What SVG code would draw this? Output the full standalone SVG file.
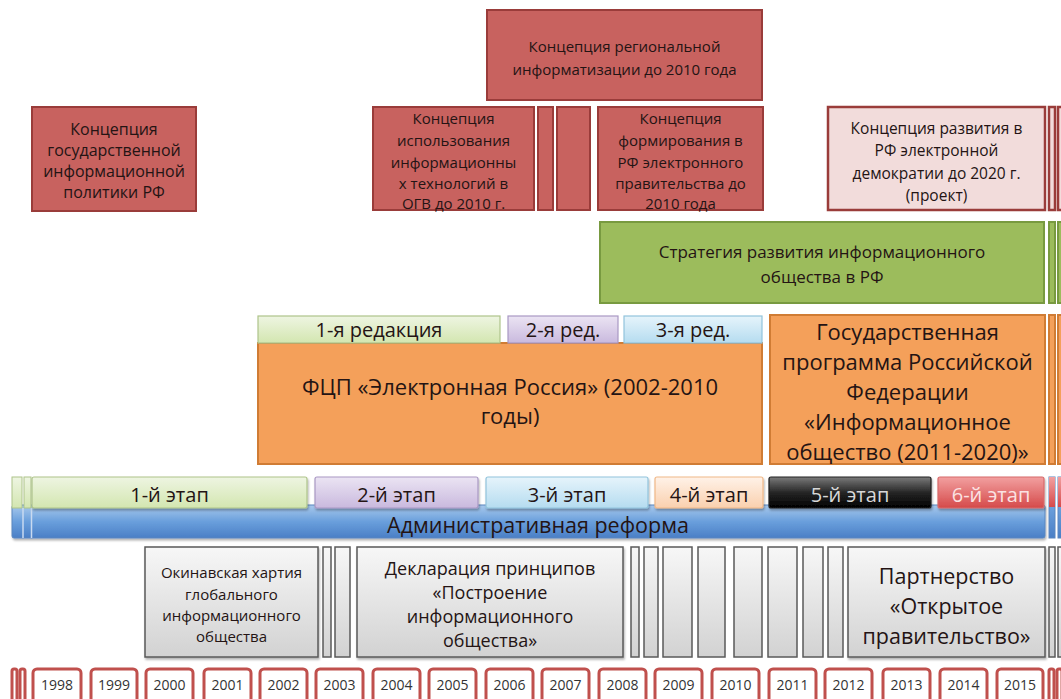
<svg xmlns="http://www.w3.org/2000/svg" width="1061" height="699" viewBox="0 0 1061 699">
<defs>
<linearGradient id="gGreen" x1="0" y1="0" x2="0" y2="1"><stop offset="0" stop-color="#eef5e2"/><stop offset="1" stop-color="#d3e6b0"/></linearGradient>
<linearGradient id="gPurple" x1="0" y1="0" x2="0" y2="1"><stop offset="0" stop-color="#ebe4f3"/><stop offset="1" stop-color="#c9b9de"/></linearGradient>
<linearGradient id="gBlue" x1="0" y1="0" x2="0" y2="1"><stop offset="0" stop-color="#e6f4fb"/><stop offset="1" stop-color="#b5dcf0"/></linearGradient>
<linearGradient id="gPeach" x1="0" y1="0" x2="0" y2="1"><stop offset="0" stop-color="#fff2e8"/><stop offset="1" stop-color="#fad0ae"/></linearGradient>
<linearGradient id="gBlack" x1="0" y1="0" x2="0" y2="1"><stop offset="0" stop-color="#7a7a7a"/><stop offset="0.5" stop-color="#262626"/><stop offset="1" stop-color="#000"/></linearGradient>
<linearGradient id="gRed" x1="0" y1="0" x2="0" y2="1"><stop offset="0" stop-color="#f2a0a0"/><stop offset="1" stop-color="#d54a4a"/></linearGradient>
<linearGradient id="gBar" x1="0" y1="0" x2="0" y2="1"><stop offset="0" stop-color="#a9c9ec"/><stop offset="0.5" stop-color="#6a9fdc"/><stop offset="1" stop-color="#4a7fc6"/></linearGradient>
<linearGradient id="gGray" x1="0" y1="0" x2="0" y2="1"><stop offset="0" stop-color="#f7f7f7"/><stop offset="1" stop-color="#d2d2d2"/></linearGradient>
<filter id="sh" x="-5%" y="-10%" width="110%" height="130%"><feDropShadow dx="1" dy="2" stdDeviation="1.2" flood-color="#000" flood-opacity="0.3"/></filter>
</defs>
<style>
text{font-family:"Open Sans","Liberation Sans",sans-serif;fill:#241414;text-anchor:middle}
.red{fill:#c8625f;stroke:#9a3c3a;stroke-width:2}
.pink{fill:#f2dcdb;stroke:#9a3c3a;stroke-width:2.5}
.grn{fill:#9cbc5c;stroke:#789a40;stroke-width:2}
.org{fill:#f4a05a;stroke:#d07c34;stroke-width:2}
.gray{fill:url(#gGray);stroke:#5a5a5a;stroke-width:1.5}
.yr{fill:#fff;stroke:#c0504d;stroke-width:3}
.s15{font-size:15px}
.s16{font-size:16px}
.s155{font-size:15.5px}
.s17{font-size:17px}
.s18{font-size:18px}
.s20{font-size:20px}
.s21{font-size:21.5px}
.s22{font-size:22px}
.s14y{font-size:14px;fill:#333}
</style>

<g id="connectors"></g>

<g id="concept-regional">
<rect class="red" x="487" y="10" width="275" height="90"/>
<text class="s15" x="624.5" y="52">Концепция региональной</text>
<text class="s15" x="624.5" y="75">информатизации до 2010 года</text>
</g>

<g id="concept-state-policy">
<rect class="red" x="32" y="107" width="164" height="104"/>
<text class="s16" x="114" y="135">Концепция</text>
<text class="s16" x="114" y="156">государственной</text>
<text class="s16" x="114" y="177">информационной</text>
<text class="s16" x="114" y="198">политики РФ</text>
</g>

<g id="concept-it-ogv">
<rect class="red" x="373" y="107" width="161" height="103"/>
<text class="s15" x="453.5" y="124">Концепция</text>
<text class="s15" x="453.5" y="146">использования</text>
<text class="s15" x="453.5" y="168">информационны</text>
<text class="s15" x="453.5" y="189">х технологий в</text>
<text class="s15" x="453.5" y="209">ОГВ до 2010 г.</text>
</g>

<g id="concept-fillers">
<rect class="red" x="538" y="107" width="15" height="103"/>
<rect class="red" x="557" y="107" width="33" height="103"/>
</g>

<g id="concept-egov">
<rect class="red" x="598" y="107" width="165" height="103"/>
<text class="s15" x="680.5" y="124">Концепция</text>
<text class="s15" x="680.5" y="146">формирования в</text>
<text class="s15" x="680.5" y="168">РФ электронного</text>
<text class="s15" x="680.5" y="189">правительства до</text>
<text class="s15" x="680.5" y="209">2010 года</text>
</g>

<g id="concept-edemocracy">
<rect class="pink" x="828" y="107" width="217" height="103"/>
<text class="s155" x="936.5" y="134">Концепция развития в</text>
<text class="s155" x="936.5" y="156">РФ электронной</text>
<text class="s155" x="936.5" y="179">демократии до 2020 г.</text>
<text class="s155" x="936.5" y="201">(проект)</text>
<rect class="pink" x="1049" y="107" width="6" height="103"/>
<rect class="pink" x="1058" y="107" width="6" height="103"/>
</g>

<g id="strategy">
<rect class="grn" x="600" y="222" width="444" height="81"/>
<text class="s17" x="822" y="258">Стратегия развития информационного</text>
<text class="s17" x="822" y="283">общества в РФ</text>
<rect class="grn" x="1049" y="222" width="6" height="81"/>
<rect class="grn" x="1058" y="222" width="6" height="81"/>
</g>

<g id="fcp-e-russia">
<rect class="org" x="258" y="343" width="504" height="121"/>
<text class="s22" x="510" y="395">ФЦП «Электронная Россия» (2002-2010</text>
<text class="s22" x="510" y="424">годы)</text>
</g>

<g id="ed-1">
<rect x="258" y="316" width="242" height="27" fill="url(#gGreen)" stroke="#aec48a" stroke-width="1.2"/>
<text class="s20" x="379" y="337">1-я редакция</text>
</g>
<g id="ed-2">
<rect x="508" y="316" width="110" height="27" fill="url(#gPurple)" stroke="#a998c4" stroke-width="1.2"/>
<text class="s20" x="563" y="337">2-я ред.</text>
</g>
<g id="ed-3">
<rect x="624" y="316" width="138" height="27" fill="url(#gBlue)" stroke="#92c4dc" stroke-width="1.2"/>
<text class="s20" x="693" y="337">3-я ред.</text>
</g>

<g id="gos-program">
<rect class="org" x="770" y="315" width="275" height="149"/>
<text class="s22" x="907.5" y="340">Государственная</text>
<text class="s22" x="907.5" y="370">программа Российской</text>
<text class="s22" x="907.5" y="400">Федерации</text>
<text class="s22" x="907.5" y="430">«Информационное</text>
<text class="s22" x="907.5" y="460">общество (2011-2020)»</text>
<rect class="org" x="1049" y="315" width="6" height="149"/>
<rect class="org" x="1058" y="315" width="6" height="149"/>
</g>

<g id="admin-reform">
<rect x="12" y="505" width="1033" height="33" rx="2" fill="url(#gBar)" stroke="#5a86bf" stroke-width="1" filter="url(#sh)"/>
<rect x="1049" y="477" width="6" height="61" fill="url(#gBar)" stroke="#5a86bf" stroke-width="1"/>
<rect x="1049" y="477" width="6" height="30" fill="url(#gRed)"/>
<rect x="1058" y="477" width="6" height="61" fill="url(#gBar)" stroke="#5a86bf" stroke-width="1"/>
<rect x="1058" y="477" width="6" height="30" fill="url(#gRed)"/>
<rect x="12" y="477" width="10" height="31" fill="url(#gGreen)" stroke="#aec48a" stroke-width="1"/>
<rect x="24" y="477" width="7" height="31" fill="url(#gGreen)" stroke="#aec48a" stroke-width="1"/>
<line x1="23" y1="508" x2="23" y2="538" stroke="#c9daf0" stroke-width="1.5"/>
<line x1="31.5" y1="508" x2="31.5" y2="538" stroke="#c9daf0" stroke-width="1.5"/>
<text class="s21" x="538" y="533">Административная реформа</text>
</g>

<g id="stage-1">
<rect x="32" y="477" width="275" height="31" rx="2" fill="url(#gGreen)" stroke="#aec48a" stroke-width="1.2" filter="url(#sh)"/>
<text class="s20" x="169.5" y="502">1-й этап</text>
</g>
<g id="stage-2">
<rect x="315" y="477" width="163" height="31" rx="2" fill="url(#gPurple)" stroke="#a998c4" stroke-width="1.2" filter="url(#sh)"/>
<text class="s20" x="396.5" y="502">2-й этап</text>
</g>
<g id="stage-3">
<rect x="486" y="477" width="162" height="31" rx="2" fill="url(#gBlue)" stroke="#92c4dc" stroke-width="1.2" filter="url(#sh)"/>
<text class="s20" x="567" y="502">3-й этап</text>
</g>
<g id="stage-4">
<rect x="655" y="477" width="108" height="31" rx="2" fill="url(#gPeach)" stroke="#f0b888" stroke-width="1.2" filter="url(#sh)"/>
<text class="s20" x="709" y="502">4-й этап</text>
</g>
<g id="stage-5">
<rect x="769" y="477" width="162" height="31" rx="2" fill="url(#gBlack)" stroke="#222" stroke-width="1.2" filter="url(#sh)"/>
<text class="s20" x="850" y="502" style="fill:#d8d8d8">5-й этап</text>
</g>
<g id="stage-6">
<rect x="938" y="477" width="106" height="31" rx="2" fill="url(#gRed)" stroke="#d86a6a" stroke-width="1.2" filter="url(#sh)"/>
<text class="s20" x="991" y="502" style="fill:#fbe2e2">6-й этап</text>
</g>

<g id="okinawa">
<rect class="gray" x="145" y="547" width="173" height="110" filter="url(#sh)"/>
<text class="s15" x="231.5" y="578">Окинавская хартия</text>
<text class="s15" x="231.5" y="600">глобального</text>
<text class="s15" x="231.5" y="621">информационного</text>
<text class="s15" x="231.5" y="642">общества</text>
</g>

<g id="gray-fillers">
<rect class="gray" x="323" y="547" width="8" height="110"/>
<rect class="gray" x="335" y="547" width="15" height="110"/>
<rect class="gray" x="631" y="547" width="8" height="110"/>
<rect class="gray" x="644" y="547" width="14" height="110"/>
<rect class="gray" x="663" y="547" width="29" height="110"/>
<rect class="gray" x="698" y="547" width="27" height="110"/>
<rect class="gray" x="734" y="547" width="28" height="110"/>
<rect class="gray" x="768" y="547" width="29" height="110"/>
<rect class="gray" x="803" y="547" width="20" height="110"/>
<rect class="gray" x="828" y="547" width="15" height="110"/>
<rect class="gray" x="1049" y="547" width="6" height="110"/>
<rect class="gray" x="1058" y="547" width="6" height="110"/>
</g>

<g id="declaration">
<rect class="gray" x="357" y="547" width="266" height="110" filter="url(#sh)"/>
<text class="s18" x="490" y="575">Декларация принципов</text>
<text class="s18" x="490" y="599">«Построение</text>
<text class="s18" x="490" y="623">информационного</text>
<text class="s18" x="490" y="647">общества»</text>
</g>

<g id="open-gov">
<rect class="gray" x="848" y="547" width="197" height="110" filter="url(#sh)"/>
<text class="s21" x="946.5" y="584">Партнерство</text>
<text class="s21" x="946.5" y="614">«Открытое</text>
<text class="s21" x="946.5" y="644">правительство»</text>
</g>

<g id="years">
<rect class="yr" x="12" y="669" width="5" height="40" rx="2"/>
<rect class="yr" x="20" y="669" width="5" height="40" rx="2"/>
<rect class="yr" x="33" y="669" width="48" height="40" rx="4"/><text class="s14y" x="57" y="690">1998</text>
<rect class="yr" x="91" y="669" width="46" height="40" rx="4"/><text class="s14y" x="114" y="690">1999</text>
<rect class="yr" x="146" y="669" width="47" height="40" rx="4"/><text class="s14y" x="169.5" y="690">2000</text>
<rect class="yr" x="204" y="669" width="47" height="40" rx="4"/><text class="s14y" x="227.5" y="690">2001</text>
<rect class="yr" x="260" y="669" width="47" height="40" rx="4"/><text class="s14y" x="283.5" y="690">2002</text>
<rect class="yr" x="316" y="669" width="47" height="40" rx="4"/><text class="s14y" x="339.5" y="690">2003</text>
<rect class="yr" x="373" y="669" width="47" height="40" rx="4"/><text class="s14y" x="396.5" y="690">2004</text>
<rect class="yr" x="429" y="669" width="47" height="40" rx="4"/><text class="s14y" x="452.5" y="690">2005</text>
<rect class="yr" x="486" y="669" width="47" height="40" rx="4"/><text class="s14y" x="509.5" y="690">2006</text>
<rect class="yr" x="542" y="669" width="47" height="40" rx="4"/><text class="s14y" x="565.5" y="690">2007</text>
<rect class="yr" x="599" y="669" width="47" height="40" rx="4"/><text class="s14y" x="622.5" y="690">2008</text>
<rect class="yr" x="655" y="669" width="47" height="40" rx="4"/><text class="s14y" x="678.5" y="690">2009</text>
<rect class="yr" x="712" y="669" width="47" height="40" rx="4"/><text class="s14y" x="735.5" y="690">2010</text>
<rect class="yr" x="769" y="669" width="47" height="40" rx="4"/><text class="s14y" x="792.5" y="690">2011</text>
<rect class="yr" x="825" y="669" width="47" height="40" rx="4"/><text class="s14y" x="848.5" y="690">2012</text>
<rect class="yr" x="883" y="669" width="47" height="40" rx="4"/><text class="s14y" x="906.5" y="690">2013</text>
<rect class="yr" x="940" y="669" width="47" height="40" rx="4"/><text class="s14y" x="963.5" y="690">2014</text>
<rect class="yr" x="997" y="669" width="46" height="40" rx="4"/><text class="s14y" x="1020" y="690">2015</text>
<rect class="yr" x="1049" y="669" width="5" height="40" rx="2"/>
<rect class="yr" x="1057" y="669" width="5" height="40" rx="2"/>
</g>
</svg>
